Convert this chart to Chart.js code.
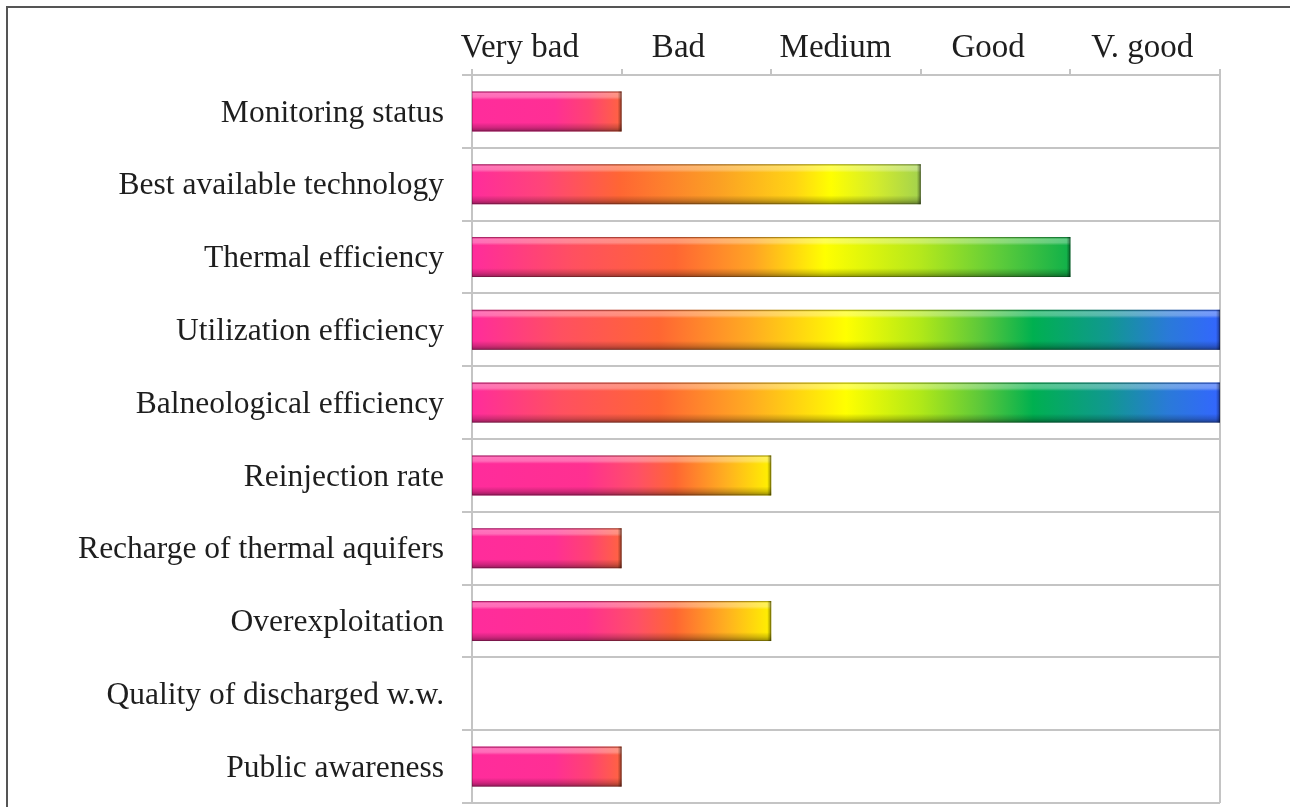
<!DOCTYPE html>
<html>
<head>
<meta charset="utf-8">
<title>Thermal water use assessment</title>
<script src="https://cdn.jsdelivr.net/npm/chart.js@4.4.1/dist/chart.umd.min.js"></script>
<style>
  html, body { margin: 0; padding: 0; background: #ffffff; }
  #wrap { width: 1290px; height: 807px; position: relative; }
</style>
</head>
<body>
<div id="wrap"><canvas id="chart"></canvas></div>
<script>
// Indicators and their ratings (0 = not rated, 1 = Very bad ... 5 = V. good)
const indicators = [
  'Monitoring status',
  'Best available technology',
  'Thermal efficiency',
  'Utilization efficiency',
  'Balneological efficiency',
  'Reinjection rate',
  'Recharge of thermal aquifers',
  'Overexploitation',
  'Quality of discharged w.w.',
  'Public awareness'
];
const ratings = [1, 3, 4, 5, 5, 2, 1, 2, 0, 1];

// Rating scale shown along the top axis
const ratingLabels = ['Very bad', 'Bad', 'Medium', 'Good', 'V. good'];
const ratingMin = 0;
const ratingMax = 5;

// Where each rating word sits along the scale (in rating units)
const ratingLabelCentres = [0.32, 1.38, 2.43, 3.45, 4.48];

// Colour ramps for a bar of each length: [fraction along the bar, colour]
const barRamps = {
  1: [[0, '#ff2c9c'], [0.55, '#ff2f94'], [0.78, '#ff4273'], [1, '#ff6440']],
  2: [[0, '#ff2c9c'], [0.38, '#ff3090'], [0.55, '#ff4f68'], [0.68, '#ff6633'],
      [0.85, '#ffb020'], [1, '#fff200']],
  3: [[0, '#ff2c9c'], [0.16, '#ff4578'], [0.33, '#ff6633'], [0.55, '#fba024'],
      [0.72, '#ffd414'], [0.8, '#ffff00'], [0.9, '#d4ec2c'], [1, '#a2d24e']],
  4: [[0, '#ff2c9c'], [0.17, '#ff5060'], [0.34, '#ff6633'], [0.47, '#ffa424'],
      [0.59, '#ffff00'], [0.75, '#b4e81c'], [0.88, '#5ecc3a'], [1, '#0fb04a']],
  5: [[0, '#ff2c9c'], [0.12, '#ff5060'], [0.25, '#ff6633'], [0.37, '#ffaa22'],
      [0.5, '#ffff00'], [0.6, '#b0e818'], [0.68, '#5cc83a'], [0.75, '#00b050'],
      [0.85, '#109890'], [0.93, '#2a7ad8'], [1, '#3366ff']]
};

const gridGrey = '#c4c4c4';
const textColour = '#1e1e1e';
const labelFont = '"Liberation Serif", "Times New Roman", serif';

function barFill(ctx) {
  const chart = ctx.chart;
  const x = chart.scales && chart.scales.x;
  const v = ctx.raw;
  if (!x || !v || !barRamps[v]) return '#ff2c9c';
  const x0 = x.getPixelForValue(0);
  const x1 = x.getPixelForValue(v);
  if (!isFinite(x0) || !isFinite(x1) || x1 <= x0) return '#ff2c9c';
  const g = chart.ctx.createLinearGradient(x0, 0, x1, 0);
  barRamps[v].forEach(([f, c]) => g.addColorStop(f, c));
  return g;
}

// Bevel shading: light rim on top, darker base and right-hand cap
const bevelPlugin = {
  id: 'bevel',
  afterDatasetsDraw(chart) {
    const c = chart.ctx;
    chart.getDatasetMeta(0).data.forEach((bar, i) => {
      if (!ratings[i]) return;
      const left = Math.min(bar.base, bar.x);
      const right = Math.max(bar.base, bar.x);
      const top = bar.y - bar.height / 2;
      const h = bar.height;
      const w = right - left;
      if (![left, right, top, h].every(isFinite) || w <= 0 || h <= 0) return;
      c.save();
      const g = c.createLinearGradient(0, top, 0, top + h);
      g.addColorStop(0, 'rgba(0,0,0,0.12)');
      g.addColorStop(0.05, 'rgba(255,255,255,0.34)');
      g.addColorStop(0.14, 'rgba(255,255,255,0.30)');
      g.addColorStop(0.21, 'rgba(255,255,255,0)');
      g.addColorStop(0.78, 'rgba(0,0,0,0)');
      g.addColorStop(0.9, 'rgba(0,0,0,0.18)');
      g.addColorStop(1, 'rgba(0,0,0,0.42)');
      c.fillStyle = g;
      c.fillRect(left, top, w, h);
      // right-hand end cap
      const e = c.createLinearGradient(right - 4, 0, right, 0);
      e.addColorStop(0, 'rgba(0,0,0,0)');
      e.addColorStop(1, 'rgba(0,0,0,0.45)');
      c.fillStyle = e;
      c.fillRect(right - 4, top, 4, h);
      c.strokeStyle = 'rgba(0,0,0,0.22)';
      c.lineWidth = 1;
      c.strokeRect(left + 0.5, top + 0.5, w - 1, h - 1);
      c.restore();
    });
  }
};

// Thin frame along the left and top edges
const framePlugin = {
  id: 'frame',
  beforeDraw(chart) {
    const c = chart.ctx;
    c.save();
    c.fillStyle = '#ffffff';
    c.fillRect(0, 0, chart.width, chart.height);
    c.strokeStyle = '#555555';
    c.lineWidth = 2;
    c.beginPath();
    c.moveTo(7, chart.height);
    c.lineTo(7, 7);
    c.lineTo(chart.width, 7);
    c.stroke();
    c.restore();
  }
};

new Chart(document.getElementById('chart'), {
  type: 'bar',
  data: {
    labels: indicators,
    datasets: [{
      data: ratings,
      backgroundColor: barFill,
      borderWidth: 0,
      barPercentage: 1,
      categoryPercentage: 0.55
    }]
  },
  options: {
    indexAxis: 'y',
    responsive: true,
    maintainAspectRatio: false,
    animation: false,
    layout: { padding: { left: 8, top: 8, right: 70, bottom: 4 } },
    plugins: {
      legend: { display: false },
      tooltip: { enabled: false }
    },
    scales: {
      x: {
        type: 'linear',
        position: 'top',
        weight: 10,
        min: ratingMin,
        max: ratingMax,
        grid: { display: false, drawTicks: false },
        border: { display: false },
        afterBuildTicks(scale) {
          scale.ticks = ratingLabelCentres.map(v => ({ value: v }));
        },
        afterFit(scale) {
          scale.height = 61;
          scale.paddingLeft = 0;
          scale.paddingRight = 0;
        },
        ticks: {
          autoSkip: false,
          maxRotation: 0,
          padding: 1,
          color: textColour,
          font: { family: labelFont, size: 33 },
          callback: (val, i) => ratingLabels[i]
        }
      },
      x2: {
        type: 'linear',
        position: 'top',
        weight: 0,
        min: ratingMin,
        max: ratingMax,
        ticks: { display: false, stepSize: 1 },
        border: { display: false },
        grid: {
          lineWidth: 2,
          tickLength: 6,
          tickColor: gridGrey,
          color: ctx => (ctx.tick && (ctx.tick.value === ratingMin || ctx.tick.value === ratingMax))
            ? gridGrey : 'rgba(0,0,0,0)'
        }
      },
      y: {
        type: 'category',
        position: 'left',
        afterFit(scale) {
          scale.width = 464;
          scale.paddingTop = 0;
          scale.paddingBottom = 0;
        },
        grid: {
          offset: true,
          color: gridGrey,
          lineWidth: 2,
          tickLength: 10
        },
        border: { display: true, color: gridGrey, width: 2 },
        ticks: {
          padding: 18,
          labelOffset: 2,
          color: textColour,
          font: { family: labelFont, size: 31.5 }
        }
      }
    }
  },
  plugins: [framePlugin, bevelPlugin]
});
</script>
</body>
</html>
